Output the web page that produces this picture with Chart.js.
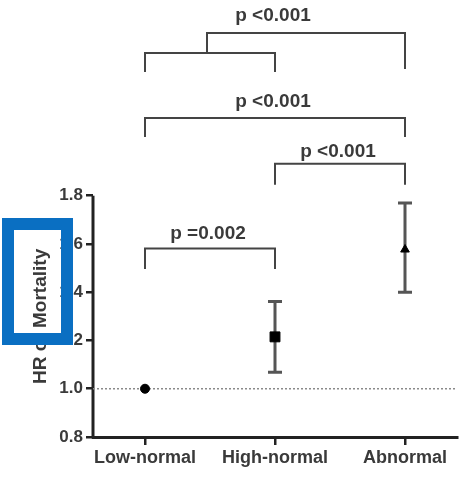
<!DOCTYPE html>
<html>
<head>
<meta charset="utf-8">
<script src="https://cdn.jsdelivr.net/npm/chart.js@4"></script>
<style>
  html, body { margin: 0; padding: 0; background: #fff; }
  #wrap { width: 471px; height: 477px; }
</style>
</head>
<body>
<div id="wrap"><canvas id="c" width="471" height="477"></canvas></div>
<script>
// groups and hazard ratios (with 95% CI)
const categories = ['Low-normal', 'High-normal', 'Abnormal'];
const hazardRatio = [1.0, 1.215, 1.577];
const ciLower = [1.0, 1.068, 1.40];
const ciUpper = [1.0, 1.362, 1.77];
const markerStyles = ['circle', 'rect', 'triangle'];
const yTicks = [0.8, 1.0, 1.2, 1.4, 1.6, 1.8];

// pairwise comparisons (group indices) and their p-values
const comparisons = [
  { a: [0], b: [1], p: 'p =0.002' },
  { a: [1], b: [2], p: 'p <0.001' },
  { a: [0], b: [2], p: 'p <0.001' },
  { a: [0, 1], b: [2], p: 'p <0.001' },
];

// vertical placement of each bracket, in HR units (layout only)
const bracketLayout = [
  { bar: 1.581, legs: 1.500, text: 1.622 },
  { bar: 1.932, legs: 1.850, text: 1.962 },
  { bar: 2.122, legs: 2.048, text: 2.168 },
  { bar: 2.474, legs: 2.329, text: 2.523, groupBar: 2.391, groupLegs: 2.317 },
];

const FONT = "'Liberation Sans', Arial, sans-serif";
const TEXT = '#3a3a3a';
const INK = '#222';

const decorPlugin = {
  id: 'decor',
  beforeDatasetsDraw(chart) {
    const { ctx } = chart;
    const xs = chart.scales.x, ys = chart.scales.y;
    ctx.save();
    // y axis line, only over the tick range
    ctx.strokeStyle = INK;
    ctx.lineWidth = 3;
    ctx.beginPath();
    ctx.moveTo(chart.chartArea.left, ys.getPixelForValue(yTicks[0]) + 1.5);
    ctx.lineTo(chart.chartArea.left, ys.getPixelForValue(yTicks[yTicks.length - 1]));
    ctx.stroke();
    // error bars
    ctx.strokeStyle = '#555';
    ctx.lineWidth = 3;
    categories.forEach((c, i) => {
      if (ciUpper[i] === ciLower[i]) return;
      const x = xs.getPixelForValue(i);
      const y1 = ys.getPixelForValue(ciLower[i]);
      const y2 = ys.getPixelForValue(ciUpper[i]);
      ctx.beginPath();
      ctx.moveTo(x, y1); ctx.lineTo(x, y2);
      ctx.moveTo(x - 7, y1); ctx.lineTo(x + 7, y1);
      ctx.moveTo(x - 7, y2); ctx.lineTo(x + 7, y2);
      ctx.stroke();
    });
    ctx.restore();
  },
  afterDatasetsDraw(chart) {
    const { ctx } = chart;
    const xs = chart.scales.x, ys = chart.scales.y;
    const mean = arr => arr.reduce((s, v) => s + v, 0) / arr.length;
    ctx.save();
    ctx.strokeStyle = '#444';
    ctx.lineWidth = 2;
    ctx.lineCap = 'square';
    ctx.fillStyle = TEXT;
    ctx.font = `bold 19px ${FONT}`;
    ctx.textAlign = 'center';
    ctx.textBaseline = 'alphabetic';
    comparisons.forEach((cmp, k) => {
      const lay = bracketLayout[k];
      const yBar = ys.getPixelForValue(lay.bar);
      const yLeg = ys.getPixelForValue(lay.legs);
      let xa = xs.getPixelForValue(cmp.a[0]);
      const xb = xs.getPixelForValue(cmp.b[cmp.b.length - 1]);
      ctx.beginPath();
      if (cmp.a.length > 1) {
        // sub-bracket joining the pooled groups
        const yg = ys.getPixelForValue(lay.groupBar);
        const ygl = ys.getPixelForValue(lay.groupLegs);
        const g0 = xs.getPixelForValue(cmp.a[0]);
        const g1 = xs.getPixelForValue(cmp.a[cmp.a.length - 1]);
        ctx.moveTo(g0, ygl); ctx.lineTo(g0, yg); ctx.lineTo(g1, yg); ctx.lineTo(g1, ygl);
        xa = xs.getPixelForValue(mean(cmp.a)) - 3;
        ctx.moveTo(xa, yg);
      } else {
        ctx.moveTo(xa, yLeg);
      }
      ctx.lineTo(xa, yBar);
      ctx.lineTo(xb, yBar);
      ctx.lineTo(xb, yLeg);
      ctx.stroke();
      const tx = xs.getPixelForValue((cmp.a[0] + cmp.b[cmp.b.length - 1]) / 2) - 2;
      ctx.fillText(cmp.p, tx, ys.getPixelForValue(lay.text));
    });
    ctx.restore();
  },
  afterDraw(chart) {
    const { ctx } = chart;
    const ys = chart.scales.y;
    ctx.save();
    // axis title
    ctx.translate(41, ys.getPixelForValue(1.3));
    ctx.rotate(-Math.PI / 2);
    ctx.font = `bold 19px ${FONT}`;
    ctx.fillStyle = TEXT;
    ctx.textAlign = 'center';
    ctx.textBaseline = 'middle';
    ctx.fillText('HR of Mortality', 0, 0);
    ctx.restore();
    // blue highlight box drawn over the title
    ctx.save();
    ctx.strokeStyle = '#0a6fc2';
    ctx.lineWidth = 12;
    ctx.strokeRect(8, 224, 59, 115);
    ctx.restore();
  }
};

new Chart(document.getElementById('c'), {
  type: 'scatter',
  data: {
    datasets: [
      {
        type: 'line',
        data: [{ x: -0.4, y: 1.0 }, { x: 2.4, y: 1.0 }],
        borderColor: '#8a8a8a',
        borderWidth: 1.5,
        borderDash: [2, 2],
        pointRadius: 0,
        order: 2,
      },
      {
        data: categories.map((c, i) => ({ x: i, y: hazardRatio[i] })),
        pointStyle: markerStyles,
        pointRadius: [4.5, 7, 5],
        backgroundColor: '#000',
        borderColor: '#000',
        borderWidth: 1,
        order: 1,
      },
    ],
  },
  options: {
    responsive: false,
    animation: false,
    layout: { padding: { top: 1, right: 14, left: 0, bottom: 0 } },
    plugins: { legend: { display: false }, tooltip: { enabled: false } },
    scales: {
      x: {
        type: 'linear',
        min: -0.4,
        max: 2.4,
        afterBuildTicks: s => { s.ticks = categories.map((c, i) => ({ value: i })); },
        afterFit: s => { s.height = 40; s.paddingLeft = 0; s.paddingRight = 0; },
        grid: { drawOnChartArea: false, drawTicks: true, tickLength: 8, color: INK, lineWidth: 2.5 },
        border: { display: true, color: INK, width: 3 },
        ticks: {
          padding: 2,
          color: TEXT,
          font: { family: FONT, size: 18, weight: 'bold' },
          callback: v => categories[v] ?? '',
        },
      },
      y: {
        min: 0.8,
        max: 2.578,
        afterBuildTicks: s => { s.ticks = yTicks.map(v => ({ value: v })); },
        afterFit: s => { s.width = 93; s.paddingTop = 0; s.paddingBottom = 0; },
        grid: { drawOnChartArea: false, drawTicks: true, tickLength: 7, color: INK, lineWidth: 2.5 },
        border: { display: false },
        ticks: {
          padding: 3,
          color: TEXT,
          font: { family: FONT, size: 17, weight: 'bold' },
          callback: v => v.toFixed(1),
        },
      },
    },
  },
  plugins: [decorPlugin],
});
</script>
</body>
</html>
